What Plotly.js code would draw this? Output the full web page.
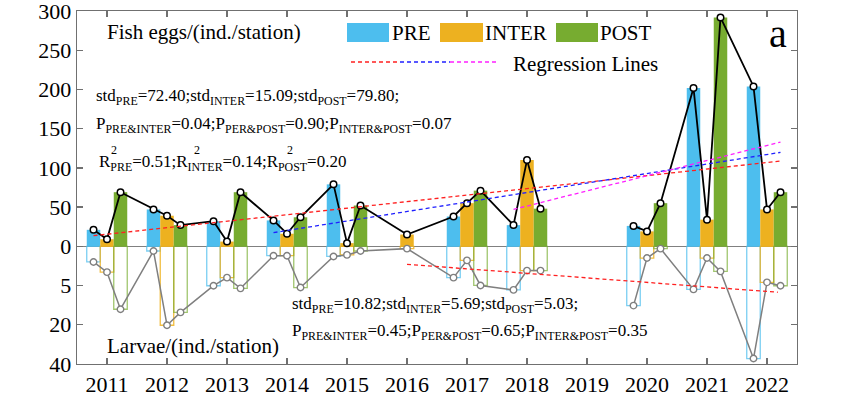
<!DOCTYPE html>
<html>
<head>
<meta charset="utf-8">
<script src="https://cdn.plot.ly/plotly-3.0.1.min.js"></script>
<style>html,body{margin:0;padding:0;background:#fff;}#chart{width:865px;height:396px;}</style>
</head>
<body>
<div id="chart"></div>
<script>
// ---------- data ----------
const years = [2011, 2012, 2013, 2014, 2015, 2016, 2017, 2018, 2019, 2020, 2021, 2022];
const seriesNames = ['PRE', 'INTER', 'POST'];
// Fish eggs (ind./station)
const eggsPRE   = [21, 47, 32, 33, 79, null, 38, 27, null, 26, 202, 204];
const eggsINTER = [9, 39, 6, 16, 4, 15, 55, 110, null, 19, 34, 47];
const eggsPOST  = [69, 27, 69, 37, 52, null, 71, 48, null, 55, 292, 69];
// Larvae (ind./station)
const larvaePRE   = [2.0, 0.6, 5.1, 1.2, 1.3, null, 4.0, 6.7, null, 12.7, 6.5, 37.3];
const larvaeINTER = [3.3, 20.3, 4.0, 1.2, 1.1, 0.3, 1.8, 3.1, null, 1.5, 1.5, 4.6];
const larvaePOST  = [14.1, 15.3, 6.1, 5.8, 0.6, null, 5.0, 3.1, null, 0.3, 3.2, 5.1];
// regression lines (start/end)
const regEggsPRE_x = [2010.775, 2022.225],  regEggsPRE_y = [13.5, 108.7];
const regEggsINTER_x = [2013.775, 2022.225], regEggsINTER_y = [17.4, 119.8];
const regEggsPOST_x = [2017.775, 2022.225], regEggsPOST_y = [47, 133];
const regLarvae_x = [2016.0, 2022.18], regLarvae_y = [2.3, 7.6];
// axis tick labels
const eggTicks = [300, 250, 200, 150, 100, 50, 0];
const larvaeTicks = [5, 20, 40];

// ---------- helpers ----------
const colors = ['#4DBEEE', '#EDB120', '#77AC30'];
const edgeColors = ['rgba(77,190,238,0.75)', 'rgba(237,177,32,0.85)', 'rgba(119,172,48,0.7)'];
const offsets = [-0.225, 0, 0.225];
const barW = 0.225;
// larvae axis: piecewise scale 0-5, 5-20, 20-40 each spanning 50 plot units
function lt(v) {
  if (v == null) return null;
  let t;
  if (v <= 5) t = v / 5 * 50;
  else if (v <= 20) t = 50 + (v - 5) / 15 * 50;
  else t = 100 + (v - 20) / 20 * 50;
  return -t;
}
const L = 77, R = 797, T = 11, B = 364;
const px = x => (x - L) / (R - L);
const py = y => (B - y) / (B - T);
const FONT = '"Liberation Serif", "Times New Roman", serif';

const eggs = [eggsPRE, eggsINTER, eggsPOST];
const larvae = [larvaePRE, larvaeINTER, larvaePOST];

const traces = [];
// upper filled bars
for (let s = 0; s < 3; s++) {
  traces.push({
    type: 'bar', x: years, y: eggs[s], width: barW, offset: offsets[s] - barW / 2,
    marker: {color: colors[s], line: {width: 0}}, name: seriesNames[s], showlegend: false
  });
}
// lower hollow bars
for (let s = 0; s < 3; s++) {
  traces.push({
    type: 'bar', x: years, y: larvae[s].map(lt), width: barW, offset: offsets[s] - barW / 2,
    marker: {color: 'rgba(0,0,0,0)', line: {width: 1.3, color: edgeColors[s]}},
    name: seriesNames[s] + ' larvae', showlegend: false
  });
}
// connecting lines
function linePoints(arrs, tf) {
  const xs = [], ys = [];
  years.forEach((yr, i) => {
    const any = arrs.some(a => a[i] != null);
    if (!any) { xs.push(yr); ys.push(null); return; }
    for (let s = 0; s < 3; s++) {
      if (arrs[s][i] != null) { xs.push(yr + offsets[s]); ys.push(tf(arrs[s][i])); }
    }
  });
  return {xs, ys};
}
const up = linePoints(eggs, v => v);
traces.push({
  type: 'scatter', mode: 'lines+markers', x: up.xs, y: up.ys, connectgaps: false,
  line: {color: '#000', width: 1.8},
  marker: {symbol: 'circle', size: 6.5, color: '#fff', line: {color: '#000', width: 1.5}},
  showlegend: false
});
const lo = linePoints(larvae, lt);
traces.push({
  type: 'scatter', mode: 'lines+markers', x: lo.xs, y: lo.ys, connectgaps: false,
  line: {color: '#7f7f7f', width: 1.5},
  marker: {symbol: 'circle', size: 6.5, color: '#fff', line: {color: '#7f7f7f', width: 1.4}},
  showlegend: false
});
// regression lines
const dashStyle = '4px,3px';
traces.push({type: 'scatter', mode: 'lines', x: regEggsPRE_x, y: regEggsPRE_y, line: {color: '#ff2020', width: 1.3, dash: dashStyle}, showlegend: false});
traces.push({type: 'scatter', mode: 'lines', x: regEggsINTER_x, y: regEggsINTER_y, line: {color: '#2020ff', width: 1.3, dash: dashStyle}, showlegend: false});
traces.push({type: 'scatter', mode: 'lines', x: regEggsPOST_x, y: regEggsPOST_y, line: {color: '#ff20ff', width: 1.3, dash: dashStyle}, showlegend: false});
traces.push({type: 'scatter', mode: 'lines', x: regLarvae_x, y: regLarvae_y.map(lt), line: {color: '#ff2020', width: 1.3, dash: dashStyle}, showlegend: false});

// ---------- legend (drawn) ----------
const shapes = [];
const legendBoxes = [[347, 389], [440, 483], [556, 598]];
legendBoxes.forEach((b, s) => {
  shapes.push({type: 'rect', xref: 'paper', yref: 'paper', x0: px(b[0]), x1: px(b[1]), y0: py(42), y1: py(23),
    fillcolor: colors[s], line: {width: 0}});
});
const regLegendColors = ['#ff2020', '#2020ff', '#ff20ff'];
[[351, 400], [400, 450], [450, 499]].forEach((seg, i) => {
  shapes.push({type: 'line', xref: 'paper', yref: 'paper', x0: px(seg[0]), x1: px(seg[1]), y0: py(62), y1: py(62),
    line: {color: regLegendColors[i], width: 1.3, dash: dashStyle}});
});

function ann(text, x, y, size, extra) {
  return Object.assign({text, x: px(x), y: py(y), xref: 'paper', yref: 'paper', xanchor: 'left', yanchor: 'middle',
    showarrow: false, align: 'left', font: {family: FONT, size, color: '#000'}}, extra || {});
}
const annotations = [
  ann('PRE', 390, 33, 21),
  ann('INTER', 483, 33, 21),
  ann('POST', 598, 33, 21),
  ann('Regression Lines', 511, 64, 21),
  ann('Fish eggs/(ind./station)', 105, 32, 21),
  ann('Larvae/(ind./station)', 105, 346, 21),
  ann('a', 767, 33, 40),
  ann('std<sub>PRE</sub>=72.40;std<sub>INTER</sub>=15.09;std<sub>POST</sub>=79.80;', 94, 97, 17),
  ann('P<sub>PRE&amp;INTER</sub>=0.04;P<sub>PER&amp;POST</sub>=0.90;P<sub>INTER&amp;POST</sub>=0.07', 94, 125, 17),
  ann('R<sub>PRE</sub>=0.51;R<sub>INTER</sub>=0.14;R<sub>POST</sub>=0.20', 97, 163, 17),
  ann('2', 109, 150, 12), ann('2', 192, 150, 12), ann('2', 285, 150, 12),
  ann('std<sub>PRE</sub>=10.82;std<sub>INTER</sub>=5.69;std<sub>POST</sub>=5.03;', 290, 305, 17),
  ann('P<sub>PRE&amp;INTER</sub>=0.45;P<sub>PER&amp;POST</sub>=0.65;P<sub>INTER&amp;POST</sub>=0.35', 290, 332, 17)
];

const axisColor = '#707070';
const layout = {
  width: 865, height: 396,
  margin: {l: L, r: 865 - R, t: T, b: 396 - B, pad: 0},
  paper_bgcolor: '#fff', plot_bgcolor: '#fff',
  barmode: 'overlay',
  showlegend: false,
  font: {family: FONT, size: 21, color: '#000'},
  xaxis: {
    range: [2010.5, 2022.5], tickvals: years, ticktext: years.map(String),
    ticks: 'inside', ticklen: 6, tickcolor: axisColor, tickwidth: 1.2,
    showline: true, linecolor: axisColor, linewidth: 1.3, mirror: 'ticks',
    showgrid: false, zeroline: false, ticklabelstandoff: 0,
    tickfont: {family: FONT, size: 22, color: '#000'}
  },
  yaxis: {
    range: [-150.2, 300.2],
    tickvals: eggTicks.concat(larvaeTicks.map(lt)),
    ticktext: eggTicks.map(String).concat(larvaeTicks.map(String)),
    ticks: 'inside', ticklen: 6, tickcolor: axisColor, tickwidth: 1.2,
    showline: true, linecolor: axisColor, linewidth: 1.3, mirror: 'ticks',
    showgrid: false, zeroline: true, zerolinecolor: '#808080', zerolinewidth: 1.5,
    ticklabeloverflow: 'allow',
    tickfont: {family: FONT, size: 22, color: '#000'}
  },
  shapes, annotations
};
Plotly.newPlot('chart', traces, layout, {displayModeBar: false, staticPlot: true});
</script>
</body>
</html>
